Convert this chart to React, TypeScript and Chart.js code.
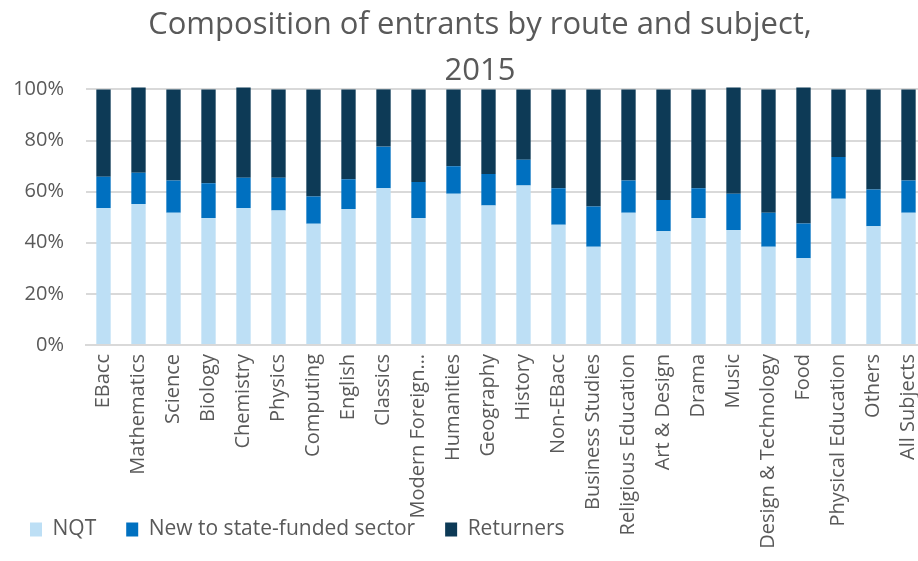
import { useEffect, useRef } from "react";
import { Chart, registerables } from "chart.js";

Chart.register(...registerables);

const categories = [
  "EBacc", "Mathematics", "Science", "Biology", "Chemistry", "Physics", "Computing",
  "English", "Classics", "Modern Foreign…", "Humanities", "Geography", "History",
  "Non-EBacc", "Business Studies", "Religious Education", "Art & Design", "Drama",
  "Music", "Design & Technology", "Food", "Physical Education", "Others", "All Subjects",
];

const nqt = [53.6, 55.2, 51.7, 49.7, 53.6, 52.6, 47.4, 53.2, 61.3, 49.7, 59.2, 54.6, 62.4, 47.0, 38.4, 51.7, 44.5, 49.7, 45.0, 38.4, 33.9, 57.2, 46.5, 51.7];
const newToSector = [12.2, 12.2, 12.7, 13.6, 11.8, 12.8, 10.7, 11.6, 16.3, 14.1, 10.7, 12.3, 10.1, 14.3, 15.8, 12.7, 12.2, 11.6, 14.2, 13.3, 13.6, 16.3, 14.3, 12.7];
const returners = [34.2, 33.3, 35.6, 36.7, 35.3, 34.6, 41.9, 35.2, 22.4, 36.2, 30.1, 33.1, 27.5, 38.7, 45.8, 35.6, 43.3, 38.7, 41.5, 48.3, 53.2, 26.5, 39.2, 35.6];

const yTicks = [0, 20, 40, 60, 80, 100];
const titleLines = ["Composition of entrants by route and subject,", "2015"];
const seriesNames = ["NQT", "New to state-funded sector", "Returners"];

const FONT = "'Open Sans', sans-serif";
const TEXT = "#595959";

export default function App() {
  const ref = useRef<HTMLCanvasElement>(null);

  useEffect(() => {
    const shiftTitle = {
      id: "shiftTitle",
      afterLayout(chart: any) {
        const t = chart.titleBlock;
        if (t) {
          t.left += 17;
          t.right += 17;
        }
      },
    };
    const chart = new Chart(ref.current!, {
      type: "bar",
      data: {
        labels: categories,
        datasets: [
          { label: seriesNames[0], data: nqt, backgroundColor: "#BDDFF5", barPercentage: 0.41, categoryPercentage: 1 },
          { label: seriesNames[1], data: newToSector, backgroundColor: "#0070C0", barPercentage: 0.41, categoryPercentage: 1 },
          { label: seriesNames[2], data: returners, backgroundColor: "#0D3A56", barPercentage: 0.41, categoryPercentage: 1, clip: false as any },
        ],
      },
      options: {
        responsive: false,
        animation: false,
        layout: { padding: { left: 0, right: 34, top: 0, bottom: 17 } },
        plugins: {
          title: {
            display: true,
            text: titleLines,
            color: TEXT,
            font: { family: FONT, size: 31, weight: "normal", lineHeight: 1.49 },
            padding: { top: 2, bottom: -5 },
          },
          legend: {
            position: "bottom",
            align: "start",
            labels: {
              color: TEXT,
              font: { family: FONT, size: 21 },
              boxWidth: 12,
              boxHeight: 14,
              padding: 30,
            },
          },
          tooltip: { enabled: false },
        },
        scales: {
          x: {
            stacked: true,
            grid: { display: false, drawTicks: false },
            border: { color: "#D9D9D9", width: 2 },
            afterFit(scale: any) {
              scale.height = 144;
              scale._computeLabelArea = () => undefined;
            },
            ticks: {
              color: TEXT,
              font: { family: FONT, size: 20 },
              minRotation: 90,
              maxRotation: 90,
              autoSkip: false,
              padding: 9,
            },
          },
          y: {
            stacked: true,
            min: 0,
            max: 100,
            afterFit(scale: any) {
              scale.width = 86;
            },
            afterBuildTicks(scale: any) {
              scale.ticks = yTicks.map((v) => ({ value: v }));
            },
            grid: { color: "#D9D9D9", lineWidth: 2, drawTicks: false },
            border: { display: false },
            ticks: {
              color: TEXT,
              font: { family: FONT, size: 20 },
              padding: 22,
              callback: (v: any) => v + "%",
            },
          },
        },
      },
      plugins: [shiftTitle],
    });
    return () => chart.destroy();
  }, []);

  return (
    <div style={{ position: "fixed", left: 0, top: 0, width: 918, height: 561, overflow: "hidden", background: "#fff" }}>
      <canvas ref={ref} width={960} height={567} style={{ width: 960, height: 567, display: "block" }} />
    </div>
  );
}
